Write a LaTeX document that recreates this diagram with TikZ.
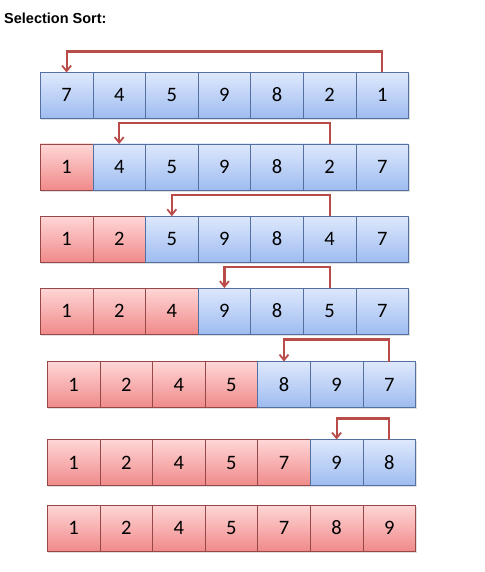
\documentclass[tikz,border=0pt]{standalone}
\usepackage{fontspec}
\setmainfont{Carlito}
\newfontfamily\titlefont{Liberation Sans}
\usetikzlibrary{positioning}
\usetikzlibrary{shadows}
\usetikzlibrary{arrows.meta}
\definecolor{todotop}{RGB}{222,232,252}
\definecolor{todobot}{RGB}{158,188,240}
\definecolor{todoline}{RGB}{84,112,160}
\definecolor{donetop}{RGB}{255,214,214}
\definecolor{donebot}{RGB}{240,138,138}
\definecolor{doneline}{RGB}{150,72,72}
\definecolor{arrowred}{RGB}{185,76,73}
\tikzset{%
  cell/.style = {rectangle,draw,line width=0.8pt,minimum width=52.6pt,
        minimum height=46pt,inner sep=0pt,outer sep=0pt,
        text height=13pt,text depth=0pt,
        font=\fontsize{20.5}{22}\selectfont,
        drop shadow={shadow xshift=1pt,shadow yshift=-1.5pt,opacity=0.25}},
  todo/.style = {cell,draw=todoline,top color=todotop,bottom color=todobot},
  done/.style = {cell,draw=doneline,top color=donetop,bottom color=donebot},
  swaparrow/.style = {-{Straight Barb[length=5.5pt,width=9pt,line width=1.8pt]},
        arrowred,line width=2.2pt}
}
\begin{document}
\begin{tikzpicture}[x=1pt,y=-1pt,node distance=0pt]
                    \useasboundingbox (0,0) rectangle (484,572);
                    \node[anchor=base west,inner sep=0pt,font=\titlefont\bfseries\fontsize{14.5}{16}\selectfont] (title) at (4,24) {Selection Sort:};

                    % pass 1
                    \node[todo] (a1) at (66.6,95.5) {7};
                    \node[todo] (a2) [right=of a1] {4};
                    \node[todo] (a3) [right=of a2] {5};
                    \node[todo] (a4) [right=of a3] {9};
                    \node[todo] (a5) [right=of a4] {8};
                    \node[todo] (a6) [right=of a5] {2};
                    \node[todo] (a7) [right=of a6] {1};

                    % pass 2
                    \node[done] (b1) at (66.6,167) {1};
                    \node[todo] (b2) [right=of b1] {4};
                    \node[todo] (b3) [right=of b2] {5};
                    \node[todo] (b4) [right=of b3] {9};
                    \node[todo] (b5) [right=of b4] {8};
                    \node[todo] (b6) [right=of b5] {2};
                    \node[todo] (b7) [right=of b6] {7};

                    % pass 3
                    \node[done] (c1) at (66.6,239.2) {1};
                    \node[done] (c2) [right=of c1] {2};
                    \node[todo] (c3) [right=of c2] {5};
                    \node[todo] (c4) [right=of c3] {9};
                    \node[todo] (c5) [right=of c4] {8};
                    \node[todo] (c6) [right=of c5] {4};
                    \node[todo] (c7) [right=of c6] {7};

                    % pass 4
                    \node[done] (d1) at (66.6,311) {1};
                    \node[done] (d2) [right=of d1] {2};
                    \node[done] (d3) [right=of d2] {4};
                    \node[todo] (d4) [right=of d3] {9};
                    \node[todo] (d5) [right=of d4] {8};
                    \node[todo] (d6) [right=of d5] {5};
                    \node[todo] (d7) [right=of d6] {7};

                    % pass 5
                    \node[done] (e1) at (73.6,384.5) {1};
                    \node[done] (e2) [right=of e1] {2};
                    \node[done] (e3) [right=of e2] {4};
                    \node[done] (e4) [right=of e3] {5};
                    \node[todo] (e5) [right=of e4] {8};
                    \node[todo] (e6) [right=of e5] {9};
                    \node[todo] (e7) [right=of e6] {7};

                    % pass 6
                    \node[done] (f1) at (73.6,462.5) {1};
                    \node[done] (f2) [right=of f1] {2};
                    \node[done] (f3) [right=of f2] {4};
                    \node[done] (f4) [right=of f3] {5};
                    \node[done] (f5) [right=of f4] {7};
                    \node[todo] (f6) [right=of f5] {9};
                    \node[todo] (f7) [right=of f6] {8};

                    % sorted
                    \node[done] (g1) at (73.6,528) {1};
                    \node[done] (g2) [right=of g1] {2};
                    \node[done] (g3) [right=of g2] {4};
                    \node[done] (g4) [right=of g3] {5};
                    \node[done] (g5) [right=of g4] {7};
                    \node[done] (g6) [right=of g5] {8};
                    \node[done] (g7) [right=of g6] {9};

                    \draw[swaparrow] (a7.north) -- ++(0,21pt) -| (a1.north);
                    \draw[swaparrow] (b6.north) -- ++(0,21pt) -| (b2.north);
                    \draw[swaparrow] (c6.north) -- ++(0,21pt) -| (c3.north);
                    \draw[swaparrow] (d6.north) -- ++(0,21pt) -| (d4.north);
                    \draw[swaparrow] (e7.north) -- ++(0,22pt) -| (e5.north);
                    \draw[swaparrow] (f7.north) -- ++(0,21pt) -| (f6.north);
                 \end{tikzpicture}
\end{document}
